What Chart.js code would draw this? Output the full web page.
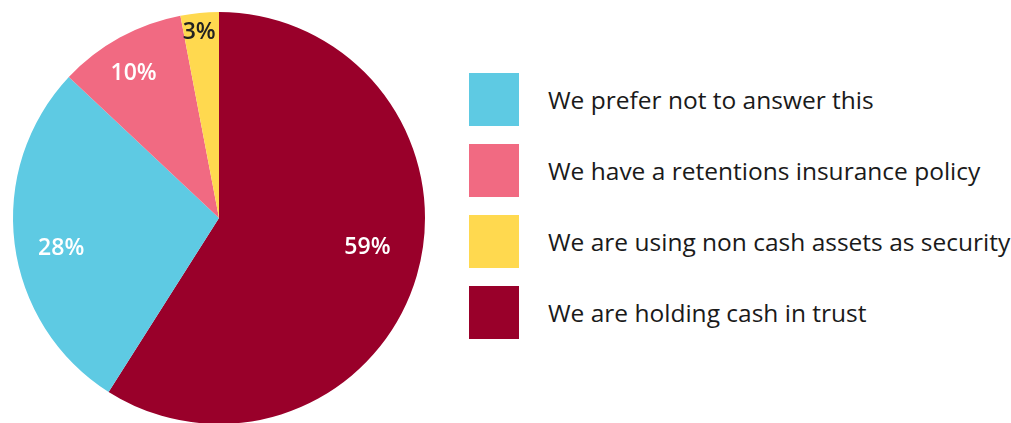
<!DOCTYPE html>
<html>
<head>
<meta charset="utf-8">
<script src="https://cdn.jsdelivr.net/npm/chart.js@4"></script>
<style>
  html, body { margin: 0; padding: 0; background: #fff; overflow: hidden; }
  body { width: 1011px; height: 423px; position: relative; font-family: "Open Sans", sans-serif; }
  .pie-wrap { position: absolute; left: 0; top: 0; width: 440px; height: 440px; }
  .legend { position: absolute; left: 469px; top: 73px; margin: 0; padding: 0; list-style: none; }
  .legend li { display: flex; align-items: center; height: 53px; margin-bottom: 18px; }
  .legend .swatch { width: 50px; height: 53px; flex: none; }
  .legend .text { margin-left: 29px; font-size: 24.5px; font-weight: 500; color: #1a1a1a; white-space: nowrap; }
</style>
</head>
<body>
<div class="pie-wrap"><canvas id="retentionPie"></canvas></div>
<ul class="legend" id="legend"></ul>
<script>
// slices run clockwise from 12 o'clock
const categories = [
  'We are holding cash in trust',
  'We prefer not to answer this',
  'We have a retentions insurance policy',
  'We are using non cash assets as security'
];
const shares = [59, 28, 10, 3];
const colors = ['#99002a', '#5ecae3', '#f16a82', '#ffd94f'];
const labelColors = ['#ffffff', '#ffffff', '#ffffff', '#222222'];
const legendOrder = [1, 2, 3, 0];

// label placement per slice: fraction of radius, and a small turn (degrees) off the slice middle
const labelRadius = [0.735, 0.78, 0.817, 0.905];
const labelTurn = [-4.8, -3.6, -1.7, -0.7];

const sliceLabels = {
  id: 'sliceLabels',
  afterDatasetsDraw(chart) {
    const { ctx } = chart;
    const meta = chart.getDatasetMeta(0);
    ctx.save();
    ctx.font = '600 23px "Open Sans", sans-serif';
    ctx.textAlign = 'center';
    ctx.textBaseline = 'middle';
    meta.data.forEach((arc, i) => {
      const { x, y, startAngle, endAngle, outerRadius } = arc.getProps(['x', 'y', 'startAngle', 'endAngle', 'outerRadius'], true);
      const mid = (startAngle + endAngle) / 2 + labelTurn[i] * Math.PI / 180;
      const r = outerRadius * labelRadius[i];
      ctx.fillStyle = labelColors[i];
      ctx.fillText(shares[i] + '%', x + Math.cos(mid) * r, y + Math.sin(mid) * r);
    });
    ctx.restore();
  }
};

new Chart(document.getElementById('retentionPie'), {
  type: 'pie',
  data: {
    labels: categories,
    datasets: [{
      data: shares,
      backgroundColor: colors,
      borderWidth: 0
    }]
  },
  options: {
    responsive: true, maintainAspectRatio: false,
    animation: false,
    layout: { padding: { left: 13, right: 15, top: 12, bottom: 16 } },
    plugins: { legend: { display: false }, tooltip: { enabled: false } }
  },
  plugins: [sliceLabels]
});

const legend = document.getElementById('legend');
legendOrder.forEach(i => {
  const li = document.createElement('li');
  li.innerHTML = `<span class="swatch" style="background:${colors[i]}"></span><span class="text">${categories[i]}</span>`;
  legend.appendChild(li);
});
</script>
</body>
</html>
